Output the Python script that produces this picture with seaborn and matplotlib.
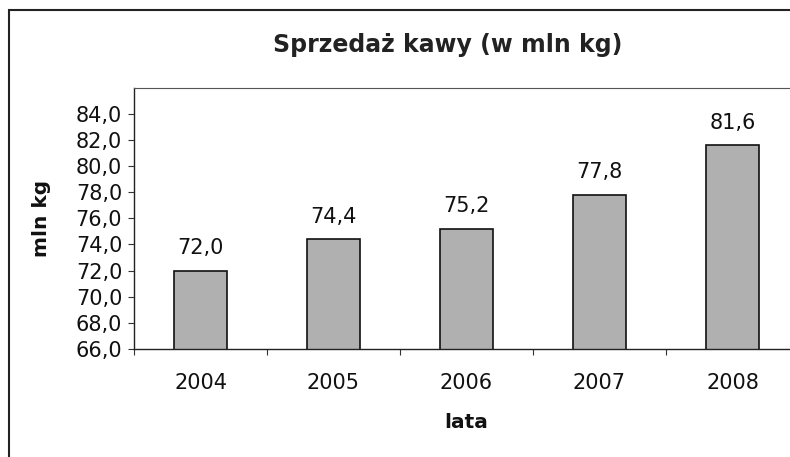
import matplotlib

matplotlib.use("Agg")
import matplotlib.pyplot as plt
import numpy as np
import pandas as pd
import seaborn as sns
from matplotlib.patches import Rectangle

# dane
years = ["2004", "2005", "2006", "2007", "2008"]
values = [72.0, 74.4, 75.2, 77.8, 81.6]
y_ticks = [66, 68, 70, 72, 74, 76, 78, 80, 82, 84]


def pl_fmt(v):
    # przecinek dziesietny
    return f"{v:.1f}".replace(".", ",")


sns.set_style("white")
plt.rcParams["font.family"] = ["DejaVu Sans"]

df = pd.DataFrame({"rok": years, "sprzedaz": values})

fig = plt.figure(figsize=(7.9, 4.57), dpi=100)
# obszar wykresu wychodzi poza prawa krawedz (jak na skanie)
ax = fig.add_axes([134 / 790, 1 - 349 / 457, 665 / 790, (349 - 87.5) / 457])

sns.barplot(data=df, x="rok", y="sprzedaz", color="#b0b0b0", width=0.4,
            edgecolor="#111111", linewidth=1.2, ax=ax)

ax.set_ylim(66, 86)
ax.set_xlim(-0.5, 4.5)
ax.set_yticks(y_ticks)
ax.set_yticklabels([pl_fmt(v) for v in y_ticks], fontsize=15, color="#111111")

# podzialki miedzy kategoriami, etykiety na srodku
ax.set_xticks(np.arange(-0.5, 5, 1.0))
ax.set_xticklabels([])
ax.set_xticks(np.arange(5), minor=True)
ax.set_xticklabels(years, minor=True, fontsize=15, color="#111111")
ax.tick_params(axis="x", which="major", direction="out", length=4.5, width=0.8,
               color="#333333", bottom=True)
ax.tick_params(axis="x", which="minor", length=0, pad=17)
ax.tick_params(axis="y", direction="out", length=4.5, width=0.8, color="#333333",
               left=True, pad=4)

ax.bar_label(ax.containers[0], labels=[pl_fmt(v) for v in values],
             padding=9, fontsize=15, color="#111111")

ax.set_xlabel("lata", fontsize=14.5, fontweight="bold", labelpad=14.5, color="#111111")
ax.set_ylabel("mln kg", fontsize=14.5, fontweight="bold", labelpad=18, color="#111111")

for side in ["left", "bottom"]:
    ax.spines[side].set_color("#222222")
    ax.spines[side].set_linewidth(1.0)
ax.spines["top"].set_color("#555555")
ax.spines["top"].set_linewidth(0.8)
ax.spines["top"].set_linestyle((0, (1, 0.6)))
ax.spines["right"].set_visible(False)

fig.text(448 / 790, 1 - 45 / 457, "Sprzedaż kawy (w mln kg)", fontsize=17,
         fontweight="bold", ha="center", va="center", color="#222222")

# ramka wykresu (przycieta na skanie z prawej i z dolu)
fig.add_artist(Rectangle((9 / 790, -0.2), 1.2, 1.2 - 10 / 457, transform=fig.transFigure,
                         fill=False, edgecolor="#222222", linewidth=1.5))

fig.savefig("out.png", dpi=100)
plt.close(fig)
